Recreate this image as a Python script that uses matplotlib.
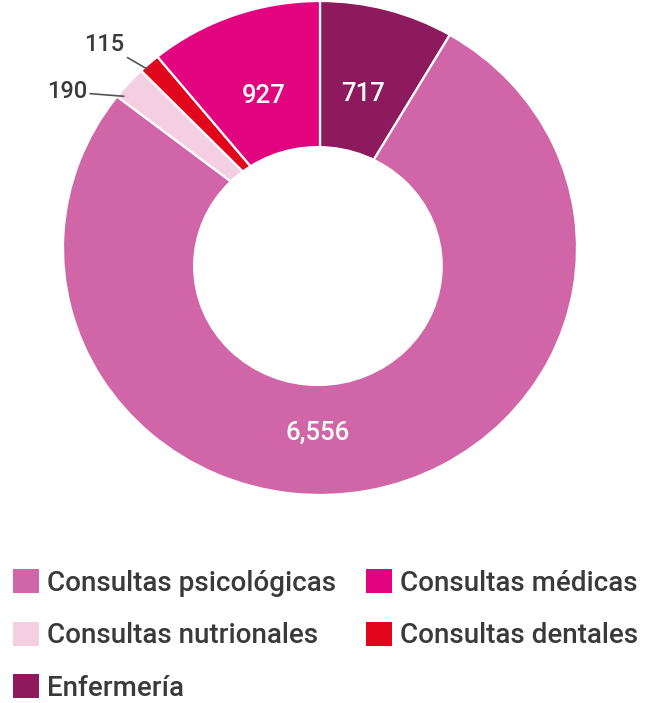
import numpy as np
import matplotlib
matplotlib.use("Agg")
import matplotlib.pyplot as plt
from matplotlib.patches import Ellipse

# ---- data ----
categories = ["Enfermería", "Consultas psicológicas", "Consultas nutrionales",
              "Consultas dentales", "Consultas médicas"]
values = [717, 6556, 190, 115, 927]
value_labels = ["717", "6,556", "190", "115", "927"]
colors = ["#8c1a5c", "#d066a8", "#f3cfe1", "#e1061b", "#e2047f"]

plt.rcParams['font.family'] = ['Roboto', 'DejaVu Sans']

W, H = 661, 703
fig = plt.figure(figsize=(W / 100, H / 100), dpi=100)

# pie geometry (pixels)
cx, cy = 320, 248          # centre (from top)
rx, ry = 257, 247          # outer radii
lim = 1.12
ax = fig.add_axes([(cx - rx * lim) / W, (H - cy - ry * lim) / H,
                   2 * rx * lim / W, 2 * ry * lim / H])

wedges, _ = ax.pie(values, colors=colors, startangle=90, counterclock=False,
                   radius=1.0,
                   wedgeprops=dict(edgecolor="white", linewidth=1.6))
ax.set_aspect('auto')
ax.set_xlim(-lim, lim)
ax.set_ylim(-lim, lim)
ax.axis('off')

# hole
hole = Ellipse((-0.008, -0.073), 2 * 0.486, 2 * 0.486, facecolor="white",
               edgecolor="none", zorder=5)
ax.add_patch(hole)

def mid(w):
    return np.deg2rad((w.theta1 + w.theta2) / 2)

# inside labels
inside = {0: (0.645, None), 4: (0.655, None), 1: (0.749, 269.4)}
for i, (r, ang) in inside.items():
    a = np.deg2rad(ang) if ang is not None else mid(wedges[i])
    ax.text(r * np.cos(a), r * np.sin(a), value_labels[i], ha="center",
            va="center", color="white", fontsize=18.5, fontweight="medium",
            zorder=6)

# outside labels with leader lines
outside = {2: ((-0.905, 0.632), 0.88, 0.98), 3: ((-0.76, 0.825), 0.75, 0.99)}
for i, (txy, frac, r) in outside.items():
    w = wedges[i]
    a = np.deg2rad(w.theta1 + frac * (w.theta2 - w.theta1))
    ax.annotate(value_labels[i], xy=(r * np.cos(a), r * np.sin(a)),
                xytext=txy, ha="right", va="center", fontsize=17,
                fontweight="medium", color="#3a3a3a",
                arrowprops=dict(arrowstyle="-", color="#555555", lw=1.2,
                                shrinkA=0, shrinkB=0))

# legend
order = [1, 2, 0, 4, 3]
leg = fig.legend([wedges[i] for i in order], [categories[i] for i in order],
                 ncol=2, loc="upper left", bbox_to_anchor=(0.019, 0.19),
                 frameon=False,
                 prop=dict(family=['Roboto', 'DejaVu Sans'], size=20,
                           weight='medium'),
                 handlelength=0.95, handleheight=0.95, handletextpad=0.3,
                 columnspacing=1.05, labelspacing=0.9, borderaxespad=0.0,
                 borderpad=0.0)
for t in leg.get_texts():
    t.set_color("#3a3a3a")
for h in leg.legend_handles:
    h.set_edgecolor("none")

fig.savefig("out.png", dpi=100, facecolor="white")
